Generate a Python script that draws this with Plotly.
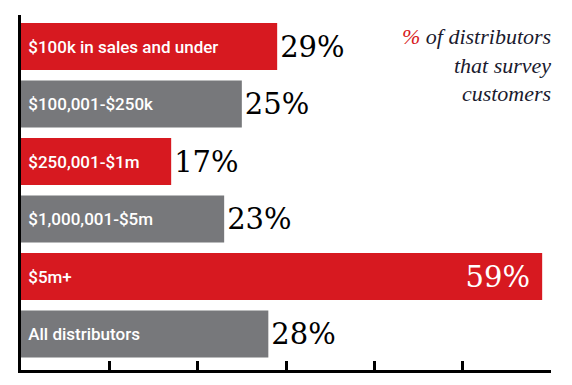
import plotly.graph_objects as go

categories = ["$100k in sales and under", "$100,001-$250k", "$250,001-$1m",
              "$1,000,001-$5m", "$5m+", "All distributors"]
values = [29, 25, 17, 23, 59, 28]
colors = ["#D71920", "#77787B", "#D71920", "#77787B", "#D71920", "#77787B"]
value_pos = ["outside", "outside", "outside", "outside", "inside", "outside"]
value_labels = [f"{v}%" for v in values]
tick_vals = [0, 10, 20, 30, 40, 50, 60]

RED = "#D71920"
XMAX = 60
ypos = list(range(len(categories)))

fig = go.Figure()
fig.add_trace(go.Bar(
    x=values, y=ypos, orientation="h",
    marker=dict(color=colors, line=dict(width=0)),
    width=0.82,
    text=[" " + c for c in categories],
    textposition="inside", insidetextanchor="start",
    textfont=dict(family="Roboto", size=17, color="white", weight=500),
    hoverinfo="skip",
))
fig.add_trace(go.Bar(
    x=values, y=ypos, orientation="h",
    marker=dict(color="rgba(0,0,0,0)", line=dict(width=0)),
    width=0.82,
    text=[t + "\u00a0" if p == "inside" else t for t, p in zip(value_labels, value_pos)],
    textposition=value_pos, insidetextanchor="end",
    insidetextfont=dict(family="DejaVu Serif", size=29, color="white"),
    outsidetextfont=dict(family="DejaVu Serif", size=29, color="black"),
    cliponaxis=False,
    hoverinfo="skip",
))

fig.update_layout(
    width=572, height=385,
    margin=dict(l=21, r=21, t=15, b=15, autoexpand=False),
    barmode="overlay",
    paper_bgcolor="white", plot_bgcolor="white",
    showlegend=False,
    xaxis=dict(range=[0, XMAX], showgrid=False, zeroline=False,
               showticklabels=False, ticks="inside", ticklen=9, tickwidth=3,
               tickcolor="black", tickvals=tick_vals,
               showline=True, linewidth=3, linecolor="black",
               fixedrange=True),
    yaxis=dict(range=[5.626, -0.548], showgrid=False, zeroline=False,
               showticklabels=False, showline=True, linewidth=3,
               linecolor="black", fixedrange=True),
    annotations=[dict(
        xref="paper", yref="paper", x=1.003, y=0.98,
        xanchor="right", yanchor="top", align="right", showarrow=False,
        text=f"<i><span style='color:{RED}'>%</span> of distributors<br>that survey<br>customers</i>",
        font=dict(family="Liberation Serif", size=22, color="#1a1a2e"),
    )],
)

fig.write_html("out.html", config={"displayModeBar": False},
               post_script="document.body.style.margin='0';")
